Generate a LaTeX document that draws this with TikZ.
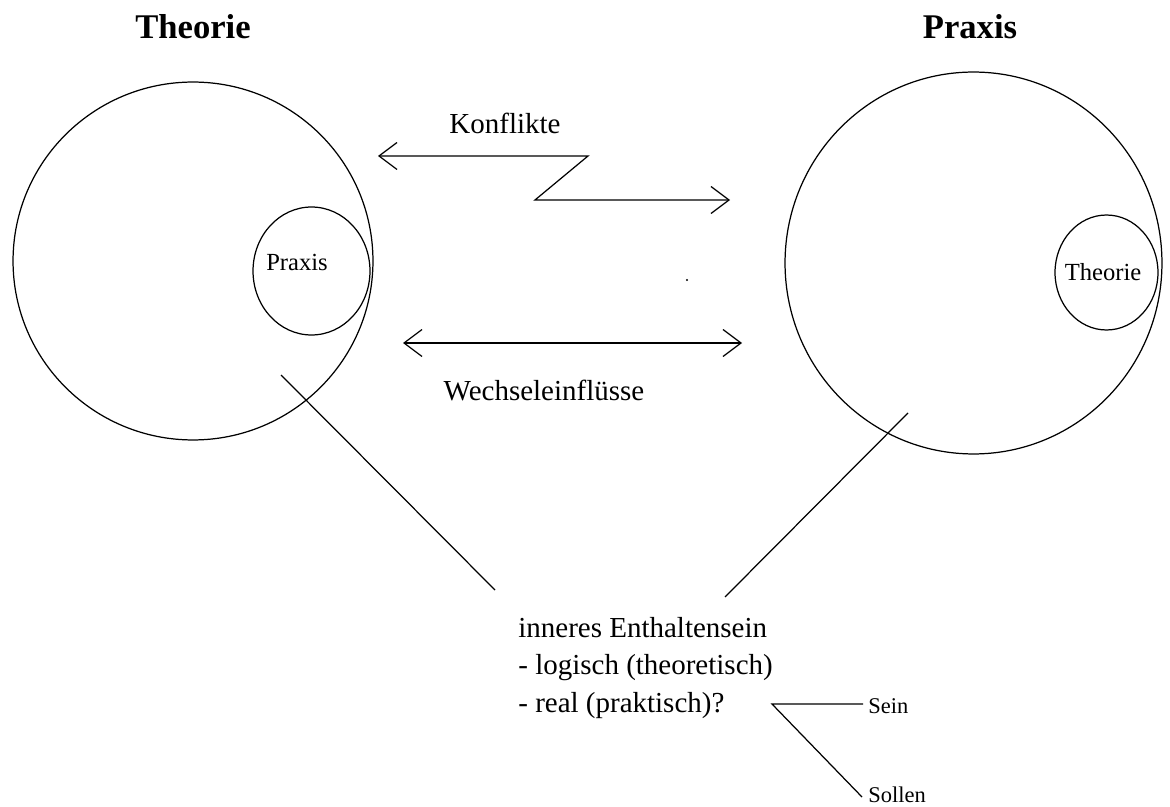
\documentclass[tikz,border=0pt]{standalone}
\usepackage{fontspec}
\setmainfont{Liberation Serif}
\usetikzlibrary{arrows.meta,shapes.geometric}
\tikzset{
  ln/.style={line width=0.7pt, black},
  arr/.style={ln, {Straight Barb[length=0.36cm,width=0.54cm]}-{Straight Barb[length=0.36cm,width=0.54cm]}},
  ring/.style={ln, draw, ellipse, inner sep=0pt},
  title/.style={font=\fontsize{19.7}{23}\selectfont\bfseries, inner sep=0pt},
  lbl/.style={font=\fontsize{16.5}{21.2}\selectfont, inner sep=0pt},
  small/.style={font=\fontsize{14}{17}\selectfont, inner sep=0pt},
  tiny/.style={font=\fontsize{12.8}{15}\selectfont, inner sep=0pt}
}
\begin{document}
\begin{tikzpicture}[x=0.02cm,y=-0.02cm]
\useasboundingbox (0,0) rectangle (1170,807);
% titles
\node[title, anchor=base] (tTheorie) at (193,39) {Theorie};
\node[title, anchor=base] (tPraxis) at (970,39) {Praxis};
% circles
\node[ring, minimum width=7.2cm, minimum height=7.16cm] (bigL) at (193,261) {};
\node[ring, minimum width=2.34cm, minimum height=2.56cm] (smallL) at (311.5,271) {};
\node[small, anchor=base] (lPraxis) at (297,271) {Praxis};
\node[ring, minimum width=7.54cm, minimum height=7.64cm] (bigR) at (973.5,263) {};
\node[ring, minimum width=2.06cm, minimum height=2.3cm] (smallR) at (1106.5,272.5) {};
\node[small, anchor=base] (lTheorie) at (1103,281) {Theorie};
% Konflikte
\node[lbl, anchor=base] (konf) at (505,134) {Konflikte};
\coordinate (kL) at (378,156);
\coordinate (kA) at (588,156);
\coordinate (kB) at (535,200);
\coordinate (kR) at (730,200);
\draw[arr] (kL) -- (kA) -- (kB) -- (kR);
% Wechseleinfluesse
\coordinate (wL) at (403,343);
\coordinate (wR) at (742,343);
\draw[arr] (wL) -- (wR);
\node[lbl, anchor=base] (wech) at (544,401) {Wechseleinflüsse};
% stray dot
\fill (687,280) circle[radius=0.022cm];
% inner text (base = last line)
\node[lbl, anchor=base west, align=left] (inner) at (518,712) {inneres Enthaltensein\\- logisch (theoretisch)\\- real (praktisch)?};
\coordinate (pL) at (281,375);
\coordinate (eL) at (495,590);
\coordinate (pR) at (908,413);
\coordinate (eR) at (725,597);
\draw[ln] (pL) -- (eL);
\draw[ln] (pR) -- (eR);
% Sein / Sollen
\coordinate (br) at (772,704);
\node[tiny, anchor=base west] (sein) at (868,713) {Sein};
\node[tiny, anchor=base west] (sollen) at (868,802) {Sollen};
\coordinate (sE) at (863,704);
\coordinate (soE) at (862,797);
\draw[ln] (sE) -- (br) -- (soE);
\end{tikzpicture}
\end{document}
